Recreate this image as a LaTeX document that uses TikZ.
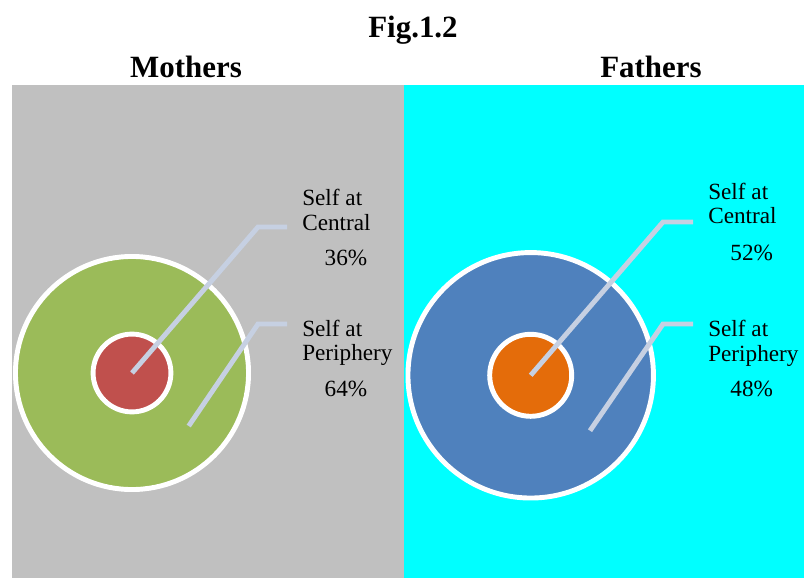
\documentclass[tikz,border=0pt]{standalone}
\usepackage{fontspec}
\setmainfont{Liberation Serif}
\usepackage{xcolor}
\usepackage{tikz}
\definecolor{grigio}{HTML}{C0C0C0}
\definecolor{ciano}{HTML}{00FFFF}
\definecolor{verde}{HTML}{9BBB59}
\definecolor{rosso}{HTML}{C0504D}
\definecolor{blu}{HTML}{4F81BD}
\definecolor{arancio}{HTML}{E46C0A}
\definecolor{guida}{HTML}{C6D0E2}

\begin{document}
\begin{tikzpicture}[x=0.025cm, y=-0.025cm,
    ring/.style={circle, draw=white, line width=3.5pt, inner sep=0pt},
    leader/.style={guida, line width=3.5pt},
    lab/.style={anchor=base west, inner sep=0pt, font=\fontsize{16.5}{18}\selectfont},
    val/.style={anchor=base, inner sep=0pt, font=\fontsize{16.5}{18}\selectfont},
    head/.style={anchor=base, inner sep=0pt, font=\fontsize{22}{24}\selectfont\bfseries}]
    \useasboundingbox (0,0) rectangle (804,578);

    % Sfondi
    \fill[grigio] (12,85) rectangle (404,578);
    \fill[ciano] (404,85) rectangle (804,578);

    % Titoli
    \node[head] (fig) at (413,37.3) {Fig.1.2};
    \node[head] (moth) at (186,77.3) {Mothers};
    \node[head] (fath) at (651,77.3) {Fathers};

    % Cerchi madri
    \node[ring, fill=verde, minimum size=5.825cm] (mOut) at (132,373) {};
    \node[ring, fill=rosso, minimum size=1.945cm] (mIn) at (132,373) {};

    % Cerchi padri
    \node[ring, fill=blu, minimum size=6.135cm] (fOut) at (530.7,375.3) {};
    \node[ring, fill=arancio, minimum size=2.05cm] (fIn) at (530.7,375.3) {};

    % Linee guida madri
    \coordinate (mpS) at (188.7,426);
    \coordinate (mcE) at (258,227);
    \coordinate (mcT) at (287,227);
    \coordinate (mpE) at (258,324);
    \coordinate (mpT) at (287,324);
    \draw[leader] (mIn.center) -- (mcE) -- (mcT);
    \draw[leader] (mpS) -- (mpE) -- (mpT);

    % Linee guida padri
    \coordinate (fpS) at (590,430.7);
    \coordinate (fcE) at (663,222);
    \coordinate (fcT) at (693,222);
    \coordinate (fpE) at (663,324);
    \coordinate (fpT) at (693,324);
    \draw[leader] (fIn.center) -- (fcE) -- (fcT);
    \draw[leader] (fpS) -- (fpE) -- (fpT);

    % Etichette madri
    \node[lab] (mcA) at (302,205.7) {Self at};
    \node[lab] (mcB) at (302,230.7) {Central};
    \node[val] (mcV) at (346,265) {36\%};
    \node[lab] (mpA) at (302,336.7) {Self at};
    \node[lab] (mpB) at (302,360.7) {Periphery};
    \node[val] (mpV) at (346,396.7) {64\%};

    % Etichette padri
    \node[lab] (fcA) at (708,199.3) {Self at};
    \node[lab] (fcB) at (708,224) {Central};
    \node[val] (fcV) at (751.7,260) {52\%};
    \node[lab] (fpA) at (708,336.7) {Self at};
    \node[lab] (fpB) at (708,361.7) {Periphery};
    \node[val] (fpV) at (751.7,396) {48\%};
\end{tikzpicture}
\end{document}
